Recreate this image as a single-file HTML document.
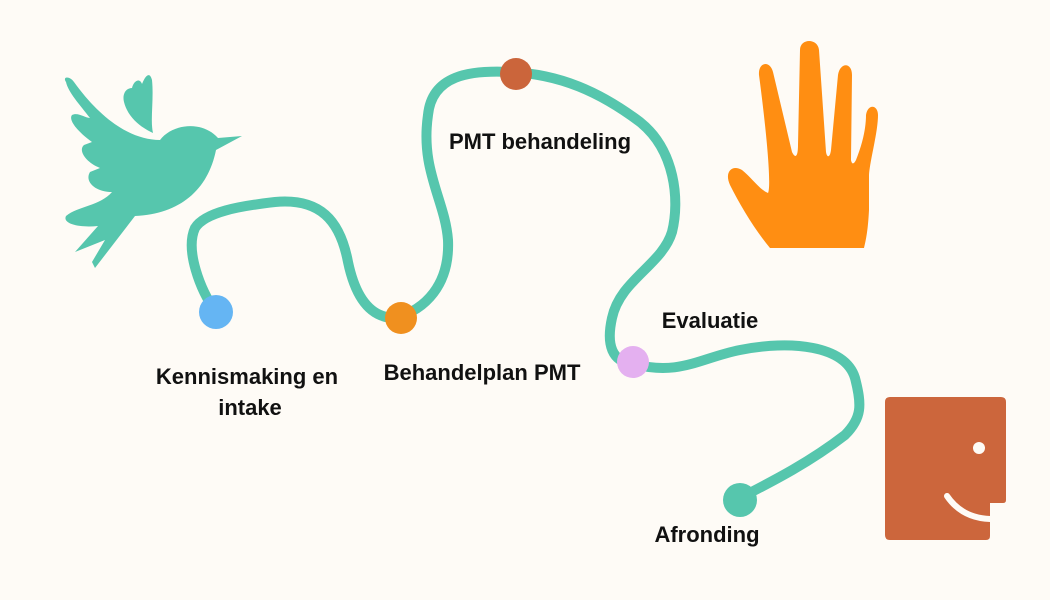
<!DOCTYPE html>
<html><head><style>
html,body{margin:0;padding:0;background:#fefbf6;}
svg{display:block}
text{font-family:"Liberation Sans",sans-serif;font-weight:bold;font-size:22px;fill:#111;}
</style></head><body>
<svg width="1050" height="600" viewBox="0 0 1050 600">
<rect width="1050" height="600" fill="#fefbf6"/>
<!-- bird -->
<g fill="#56c6ad">
<path d="M66,82 C62,76 70,76 74,82 C100,118 130,140 160,140 C172,124 202,120 218,138 L242,136 L216,150 C208,190 180,214 135,216 L95,268 L92,262 L105,240 L75,252 L98,226 C80,228 62,224 66,216 C78,206 100,206 112,192 C96,192 84,182 90,172 L100,168 C85,162 78,150 84,145 L92,142 C78,132 68,120 72,115 C78,112 85,118 90,118 C80,105 68,92 66,82 Z"/>
<path d="M132,88 C134,80 140,78 142,84 C146,74 150,72 152,80 C154,100 150,120 153,133 C142,128 128,118 124,102 C122,94 126,88 132,88 Z"/>
</g>
<!-- path -->
<path d="M216,312 C200,290 185,250 195,228 C205,212 240,206 275,202 C320,198 340,220 348,262 C356,300 372,318 395,318 C425,310 450,285 448,240 C445,200 420,170 428,115 C432,75 470,70 510,72 C560,74 600,92 640,122 C675,150 680,200 672,232 C662,265 620,280 612,318 C606,345 612,362 633,364 C680,376 700,358 740,350 C790,340 845,345 855,378 C862,405 862,418 845,435 C810,462 775,480 740,498" fill="none" stroke="#56c6ad" stroke-width="10" stroke-linecap="round"/>
<circle cx="216" cy="312" r="17" fill="#65b5f3"/>
<circle cx="401" cy="318" r="16" fill="#f0901f"/>
<circle cx="516" cy="74" r="16" fill="#cb653b"/>
<circle cx="633" cy="362" r="16" fill="#e4b0f0"/>
<circle cx="740" cy="500" r="17" fill="#56c6ad"/>
<!-- hand -->
<path fill="#ff8e12" d="M770,248 C755,230 740,205 730,185 C724,172 732,164 742,170 C752,178 760,190 768,193 C772,185 765,120 759,75 C758,62 770,60 773,72 L792,152 C796,160 798,155 798,145 L800,50 C800,38 818,38 819,50 L826,152 C827,158 830,158 831,150 L838,75 C840,62 852,62 852,75 L851,160 C852,165 854,164 856,160 C864,140 866,125 866,115 C868,103 878,105 878,115 C878,132 870,160 869,175 L869,210 C868,230 866,240 864,248 Z"/>
<!-- face -->
<path fill="#cc663c" d="M890,397 L1001,397 Q1006,397 1006,402 L1006,500 Q1006,503 1003,503 L990,503 L990,536 Q990,540 986,540 L890,540 Q885,540 885,535 L885,402 Q885,397 890,397 Z"/>
<circle cx="979" cy="448" r="6" fill="#fefbf6"/>
<path d="M947,496 Q962,518 990,519" fill="none" stroke="#fefbf6" stroke-width="6" stroke-linecap="round"/>
<!-- labels -->
<text x="247" y="384" text-anchor="middle">Kennismaking en</text>
<text x="250" y="415" text-anchor="middle">intake</text>
<text x="482" y="380" text-anchor="middle">Behandelplan PMT</text>
<text x="540" y="149" text-anchor="middle">PMT behandeling</text>
<text x="710" y="328" text-anchor="middle">Evaluatie</text>
<text x="707" y="542" text-anchor="middle">Afronding</text>
</svg>
</body></html>
